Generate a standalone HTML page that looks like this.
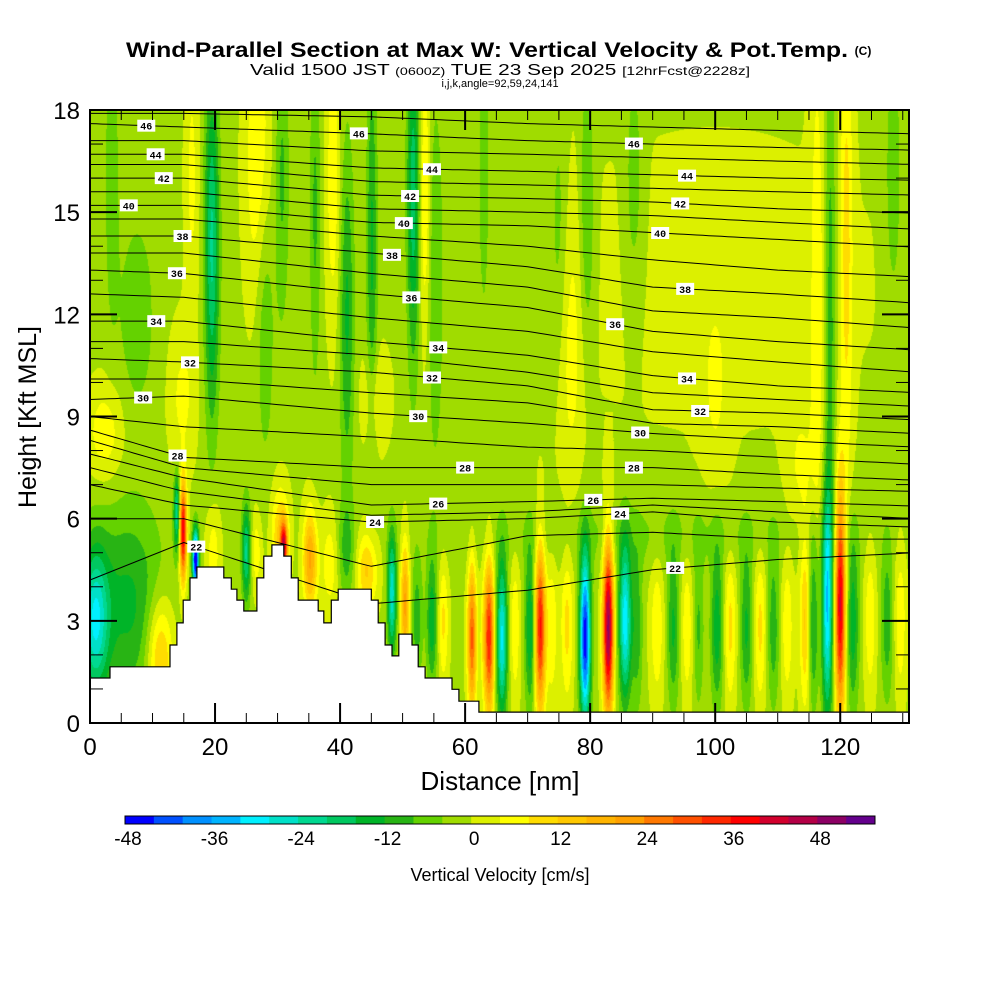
<!DOCTYPE html>
<html><head><meta charset="utf-8"><style>
html,body{margin:0;padding:0;background:#fff;width:1000px;height:1000px;overflow:hidden}
#wrap{position:relative;width:1000px;height:1000px}
canvas{position:absolute;left:90px;top:110px}
svg{position:absolute;left:0;top:0}
text{font-family:"Liberation Sans",sans-serif}
</style></head><body>
<div id="wrap">
<canvas id="field" width="819" height="613"></canvas>
<svg id="svg" width="1000" height="1000">
<text x="487" y="57" font-size="21" font-weight="bold" text-anchor="middle" textLength="722" lengthAdjust="spacingAndGlyphs">Wind-Parallel Section at Max W: Vertical Velocity &amp; Pot.Temp.</text>
<text x="863" y="55" font-size="12" font-weight="bold" text-anchor="middle">(C)</text>
<text x="500" y="75" font-size="16" text-anchor="middle" textLength="500" lengthAdjust="spacingAndGlyphs">Valid 1500 JST <tspan font-size="11">(0600Z)</tspan> TUE 23 Sep 2025 <tspan font-size="12">[12hrFcst@2228z]</tspan></text>
<text x="500" y="87" font-size="11" text-anchor="middle">i,j,k,angle=92,59,24,141</text>
<g id="contours"></g>
<g id="terrain"></g>
<g id="clabels"></g>
<rect x="90" y="110" width="819" height="613" fill="none" stroke="#000" stroke-width="2"/>
<g id="ticks"></g>
<text x="500" y="790" font-size="26" text-anchor="middle">Distance [nm]</text>
<text transform="translate(36,417) rotate(-90)" font-size="25" text-anchor="middle">Height [Kft MSL]</text>
<g id="cbar"></g>
<text x="500" y="881" font-size="18" text-anchor="middle">Vertical Velocity [cm/s]</text>
</svg>
</div>
<script>
// ---- data ----
const cbColors=["#0000ff","#0050ff","#0090ff","#00b4ff","#00f0ff","#00e0c8","#00d890","#00c860","#00b428","#28b414","#64d200","#a0dc00","#dcf000","#ffff00","#ffdc00","#ffc800","#ffb400","#ffa000","#ff7800","#ff5000","#ff2800","#ff0000","#d2002d","#b40046","#8c0064","#64008c"];
const cbTickLabels=[-48,-36,-24,-12,0,12,24,36,48];
const xTickLabels=[0,20,40,60,80,100,120];
const yTickLabels=[0,3,6,9,12,15,18];
const baseW=-1;
// vertical-velocity streaks: centre distance (nm), width (nm), amplitude (cm/s), centre height (kft), half-height (kft)
const streakX=[100,90,2.4,14.7,16.3,19.5,26.9,28,30.7,36,38.9,41.1,45.1,45.6,51.7,53.6,55.2,63,75,3.5,7.5,79.5,87,76.8,116.3,118.4,121,128.5,100,113.6,
0.8,6,14.9,16.9,13.9,11.2,19.7,25,26.6,31,30.4,35.2,38.4,41,44.3,48.3,50.4,52.3,54.7,56.5,61.1,63.5,
64,65.9,68,70.4,72,73.9,76.3,79.2,82.9,85.6,87.5,90.7,93.3,95.5,97.3,100.3,102.4,105,107.2,109.3,111.5,114.4,115.7,117.9,120,122,124.8,127.5,129.6];
const streakW=[30,25,2,1.5,0.8,0.8,1.5,1,0.8,0.6,0.8,0.8,0.6,1.5,0.7,0.6,1,0.6,1,0.8,2,0.8,1,1.5,0.8,0.6,0.7,1,1.5,1.5,
1.5,4,0.4,0.35,0.35,1.5,0.8,0.5,0.6,0.4,1,0.8,1,1,1.2,0.5,0.5,0.6,0.6,0.6,0.5,0.6,
0.5,0.6,0.6,0.6,0.6,0.6,0.7,0.6,0.6,0.7,0.6,0.8,0.7,0.7,0.6,0.7,0.7,0.7,0.7,0.7,0.7,0.6,0.6,0.6,0.6,0.7,0.7,0.7,0.7];
const streakA=[1.5,-4,8,6,6,-20,9,-7,-8,-8,8,-12,-12,6,-18,10,-7,-7,-6,-6,-6,-8,-6,6,7,-10,10,-6,5,5,
-24,-12,42,-50,-22,16,8,-20,8,36,14,22,8,-8,14,-26,22,-10,-14,10,30,18,
22,-28,8,-16,38,8,10,-46,50,-30,-10,8,-12,8,-8,-14,10,-12,10,-10,8,14,-14,-30,42,-14,8,-10,8];
const streakZ=[13,5.5,8.5,9.5,16,14,16.5,12,16,15,16,12,14,9.5,15.5,15.5,13,16,14,16,12,15,16,11,12,12,14,16,10,7.5,
3,3.5,5.6,4.8,6.2,2,5,5,5,5.2,5.5,4.8,4.7,5,4.5,3.8,3.5,3,3,3,2.5,2.5,
2.5,2.5,2.8,2.8,2.8,2.8,2.8,2.5,2.8,3,2.8,2.8,2.8,2.8,2.8,2.8,2.8,2.8,2.8,2.8,2.8,3,3,3.5,3.5,3,3,3,3];
const streakH=[5,0.8,1,1.5,3,3.5,3,3,3,3.5,3,3.5,4,1,3.5,3,4,3,3,3,2,3,2.5,3,6,6,5,3,2,1.5,
1.5,2,1,0.6,0.8,1.2,1,1,0.8,0.5,1,1,1,1,0.8,1.2,1.3,1.2,1.3,1.3,1.5,1.5,
1.6,1.6,1.6,1.6,1.7,1.6,1.6,1.7,1.8,1.6,1.6,1.6,1.6,1.6,1.6,1.6,1.6,1.6,1.6,1.6,1.6,1.8,1.8,2.3,2.3,1.8,1.6,1.6,1.6];
// terrain steps
const terrX=[0,3.2,12.8,13.9,14.9,16.0,17.1,21.4,22.6,23.5,24.6,26.7,27.8,29.1,31.0,32.2,33.3,36.5,37.4,38.6,39.7,45.0,46.1,47.2,48.3,49.4,51.5,52.5,53.6,57.9,59.0,62.2];
const terrZ=[1.32,1.65,2.29,2.94,3.61,4.26,4.58,4.26,3.93,3.61,3.29,4.26,4.9,5.23,4.9,4.26,3.61,3.29,2.94,3.61,3.93,3.61,2.94,2.29,1.97,2.61,2.29,1.65,1.32,0.99,0.64,0.32];
// potential temperature contours
const thetaLevels=[22,23,24,25,26,27,28,29,30,31,32,33,34,35,36,37,38,39,40,41,42,43,44,45,46,47];
const thetaNodeX=[0,15,45,70,90,110,132];
const thetaHeights=[
[4.2,5.3,3.5,3.9,4.5,4.8,5.0],[6.0,6.0,4.6,5.5,5.6,5.4,5.4],[7.0,6.4,5.9,6.0,6.2,5.9,5.75],[7.5,6.8,6.1,6.2,6.4,6.2,6.0],
[7.9,7.2,6.4,6.5,6.6,6.5,6.37],[8.3,7.5,7.0,7.0,7.0,6.9,6.8],[8.6,7.8,7.5,7.5,7.5,7.3,7.13],[9.0,8.7,8.4,8.1,8.0,7.8,7.6],
[9.5,9.6,9.1,8.8,8.5,8.3,8.1],[10.1,10.1,9.7,9.4,8.8,8.7,8.5],[10.7,10.6,10.3,9.9,9.2,9.1,8.9],[11.2,11.2,10.8,10.3,9.7,9.5,9.3],
[11.8,11.8,11.2,10.8,10.2,9.9,9.7],[12.6,12.5,11.9,11.5,10.9,10.6,10.3],[13.3,13.2,12.6,12.2,11.5,11.2,10.95],[13.8,13.8,13.2,12.8,12.1,11.9,11.6],
[14.3,14.3,13.8,13.4,12.8,12.6,12.33],[14.8,14.8,14.3,14.0,13.6,13.3,13.1],[15.2,15.2,14.7,14.6,14.4,14.2,13.97],[15.6,15.6,15.1,15.0,14.9,14.7,14.5],
[16.0,16.0,15.5,15.4,15.3,15.1,14.97],[16.4,16.4,15.9,15.8,15.7,15.6,15.5],[16.7,16.7,16.3,16.2,16.1,16.0,15.94],[17.1,17.1,16.8,16.7,16.6,16.5,16.4],
[17.6,17.5,17.3,17.1,17.0,16.9,16.82],[17.9,17.9,17.8,17.6,17.5,17.4,17.3]];
const labelLevel=[46,44,42,40,38,36,34,32,30,28,46,44,42,40,38,36,34,32,30,28,26,24,22,46,44,42,40,38,36,34,32,30,28,26,24,22];
const labelX=[9,10.5,11.8,6.2,14.8,13.9,10.6,16,8.5,14,43,54.7,51.2,50.2,48.3,51.4,55.7,54.7,52.5,60,55.7,45.6,17,87,95.5,94.4,91.2,95.2,84,95.5,97.6,88,87,80.5,84.8,93.6];

// ---- axes ----
const X0=90,X1=909,Y0=110,Y1=723,XMAX=131,ZMAX=18;
const xs=v=>X0+v*(X1-X0)/XMAX;
const ys=v=>Y1-v*(Y1-Y0)/ZMAX;
const NS="http://www.w3.org/2000/svg";
function mk(tag,attrs,parent){const e=document.createElementNS(NS,tag);for(const k in attrs)e.setAttribute(k,attrs[k]);parent.appendChild(e);return e;}

// ---- field ----
(function(){
  const cv=document.getElementById('field'),ctx=cv.getContext('2d');
  const W=cv.width,H=cv.height,img=ctx.createImageData(W,H);
  const n=streakX.length;
  const fx=[],fz=[];
  for(let s=0;s<n;s++){
    const ax=new Float32Array(W),az=new Float32Array(H);
    for(let i=0;i<W;i++){const x=(i+0.5)/W*XMAX;const d=(x-streakX[s])/streakW[s];ax[i]=streakA[s]*Math.exp(-0.5*d*d);}
    for(let j=0;j<H;j++){const z=(H-j-0.5)/H*ZMAX;const d=(z-streakZ[s])/streakH[s];az[j]=Math.exp(-0.5*d*d);}
    fx.push(ax);fz.push(az);
  }
  const rgb=cbColors.map(c=>[parseInt(c.substr(1,2),16),parseInt(c.substr(3,2),16),parseInt(c.substr(5,2),16)]);
  for(let j=0;j<H;j++){for(let i=0;i<W;i++){
    let w=baseW;for(let s=0;s<n;s++){const a=fz[s][j];if(a>0.002)w+=fx[s][i]*a;}
    let k=Math.floor((w+48)/4);if(k<0)k=0;if(k>25)k=25;
    const p=(j*W+i)*4,c=rgb[k];img.data[p]=c[0];img.data[p+1]=c[1];img.data[p+2]=c[2];img.data[p+3]=255;
  }}
  ctx.putImageData(img,0,0);
})();

function thetaAt(li,x){
  const h=thetaHeights[li];
  for(let k=0;k<thetaNodeX.length-1;k++){
    if(x<=thetaNodeX[k+1]){const t=(x-thetaNodeX[k])/(thetaNodeX[k+1]-thetaNodeX[k]);return h[k]+t*(h[k+1]-h[k]);}
  }
  return h[h.length-1];
}
// contours
(function(){
  const g=document.getElementById('contours');
  thetaLevels.forEach((lv,li)=>{
    let d='';
    for(let x=0;x<=XMAX;x+=1){d+=(x===0?'M':'L')+xs(x).toFixed(1)+','+ys(thetaAt(li,x)).toFixed(1);}
    const p=mk('path',{d:d,fill:'none',stroke:'#000','stroke-width':1},g);
    
    
  });
})();
// terrain
(function(){
  const g=document.getElementById('terrain');
  let d='M'+X0+','+Y1;
  for(let k=0;k<terrX.length;k++){
    const x=xs(terrX[k]),y=ys(terrZ[k]);
    d+=' L'+x.toFixed(1)+','+(k===0?y:ys(terrZ[k-1])).toFixed(1)+' L'+x.toFixed(1)+','+y.toFixed(1);
  }
  d+=' L'+X1+','+ys(terrZ[terrZ.length-1]).toFixed(1)+' L'+X1+','+Y1+' Z';
  const p=mk('path',{d:d,fill:'#fff',stroke:'#000','stroke-width':1.2},g);
  
  
})();
// contour labels
(function(){
  const g=document.getElementById('clabels');
  labelLevel.forEach((lv,i)=>{
    const li=thetaLevels.indexOf(lv);const x=xs(labelX[i]),y=ys(thetaAt(li,labelX[i]));
    const r=mk('rect',{x:x-9,y:y-6,width:18,height:12,fill:'#fff'},g);
    
    
    const t=mk('text',{x:x,y:y+4,'font-size':10,'font-weight':'bold','text-anchor':'middle',style:'font-family:"Liberation Mono",monospace'},g);
    t.textContent=lv;
    
    
  });
})();
// ticks
(function(){
  const g=document.getElementById('ticks');
  for(let v=0;v<=130;v+=5){
    const x=xs(v),major=v%20===0,L=major?20:10;
    mk('line',{x1:x,y1:Y1,x2:x,y2:Y1-L,stroke:'#000','stroke-width':major?2:1},g);
    mk('line',{x1:x,y1:Y0,x2:x,y2:Y0+L,stroke:'#000','stroke-width':major?2:1},g);
  }
  for(let v=0;v<=18;v+=1){
    const y=ys(v),major=v%3===0,L=major?27:13;
    mk('line',{x1:X0,y1:y,x2:X0+L,y2:y,stroke:'#000','stroke-width':major?2:1},g);
    mk('line',{x1:X1,y1:y,x2:X1-L,y2:y,stroke:'#000','stroke-width':major?2:1},g);
  }
  xTickLabels.forEach(v=>{const t=mk('text',{x:xs(v),y:755,'font-size':24,'text-anchor':'middle'},g);t.textContent=v;
    
    });
  yTickLabels.forEach(v=>{const t=mk('text',{x:80,y:ys(v)+9,'font-size':24,'text-anchor':'end'},g);t.textContent=v;
    
    });
})();
// colorbar
(function(){
  const g=document.getElementById('cbar');
  const cx0=125,cx1=875,cy=816,ch=8,bw=(cx1-cx0)/cbColors.length;
  cbColors.forEach((c,i)=>{const r=mk('rect',{x:cx0+i*bw,y:cy,width:bw+0.5,height:ch,fill:c},g);
    
    });
  mk('rect',{x:cx0,y:cy,width:cx1-cx0,height:ch,fill:'none',stroke:'#000','stroke-width':1},g);
  const cbs=v=>cx0+(v+48)/4*bw;
  cbTickLabels.forEach(v=>{const t=mk('text',{x:cbs(v)+3,y:845,'font-size':19,'text-anchor':'middle'},g);t.textContent=v;
    
    });
})();
</script>
</body></html>
